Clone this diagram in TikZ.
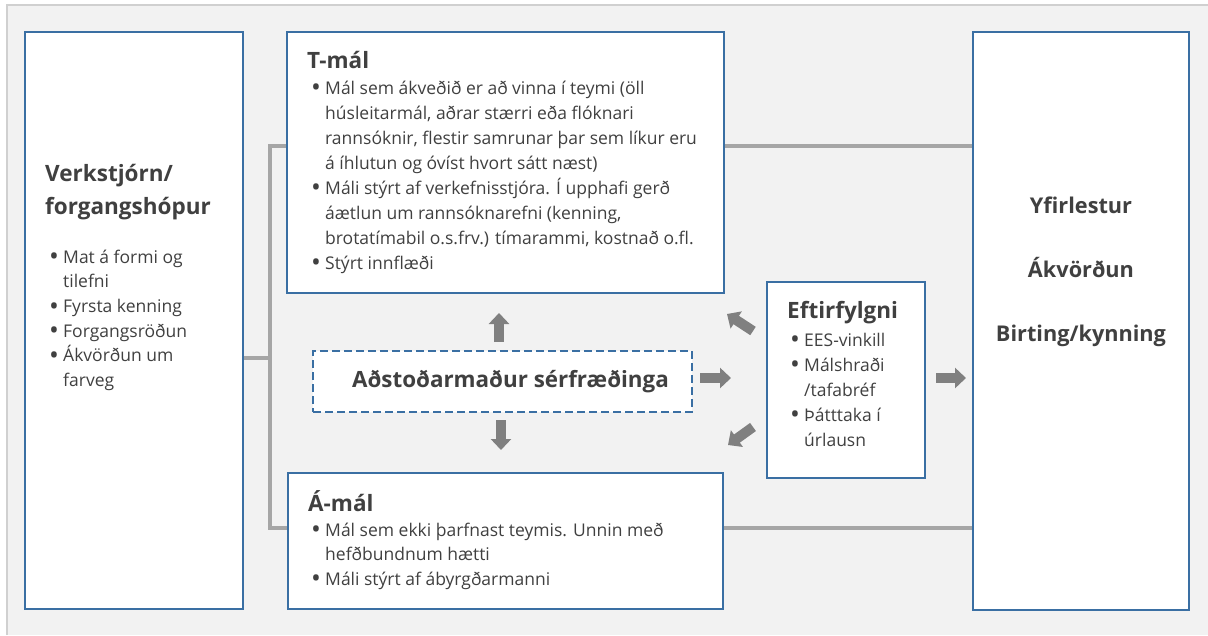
\documentclass[tikz,border=0pt]{standalone}
\usepackage{fontspec}
\usepackage{graphicx}
\setmainfont{Open Sans}
\usetikzlibrary{arrows.meta,calc,backgrounds}
\definecolor{bgfill}{HTML}{F2F2F2}
\definecolor{bgline}{HTML}{D0D0D0}
\definecolor{boxblue}{HTML}{3A6FA3}
\definecolor{conn}{HTML}{A6A6A6}
\definecolor{arr}{HTML}{808080}
\definecolor{txt}{HTML}{404040}
\newcommand{\bitem}{\makebox[14pt][l]{\raisebox{-0.14em}{\scalebox{1.5}{\textbullet}}}}
\newcommand{\bcont}{\hspace*{14pt}}
\begin{document}
\begin{tikzpicture}[x=1pt,y=-1pt,
  box/.style={draw=boxblue, line width=2.5pt, fill=white, rectangle, inner sep=0},
  dashbox/.style={box, dash pattern=on 8pt off 4pt},
  conline/.style={draw=conn, line width=4pt},
  blk/.style={draw=arr, line width=10pt, -{Triangle[width=20pt,length=11pt]}},
  body/.style={inner sep=0, anchor=north west, align=left, text=txt, font=\fontsize{17.5}{25}\selectfont},
  ttl/.style={inner sep=0, anchor=north west, align=left, text=txt, font=\bfseries\fontsize{22.5}{28}\selectfont},
]
\useasboundingbox (0,0) rectangle (1208,635);

% boxes
\node[box, minimum width=218pt, minimum height=577pt] (left) at (134,320.5) {};
\node[box, minimum width=437pt, minimum height=261pt] (tmal) at (505.5,162.5) {};
\node[box, minimum width=435pt, minimum height=136pt] (amal) at (505.5,541) {};
\node[dashbox, minimum width=379pt, minimum height=61pt, text=txt, font=\bfseries\fontsize{22.4}{28}\selectfont] (assist) at (502.5,381.5) {\hspace*{16pt}Aðstoðarmaður sérfræðinga};
\node[box, minimum width=158pt, minimum height=196pt] (eftir) at (846,380) {};
\node[box, minimum width=216pt, minimum height=578pt] (right) at (1081,321) {};

% texts
\node[ttl, font=\bfseries\fontsize{22.5}{33}\selectfont] (lefttitle) at (45,158) {\strut Verkstjórn/\\forgangshópur};
\node[body, font=\fontsize{17.5}{24.7}\selectfont] (leftbody) at (49,245.7) {\bitem\strut Mat á formi og\\\bcont tilefni\\\bitem Fyrsta kenning\\\bitem Forgangsröðun\\\bitem Ákvörðun um\\\bcont farveg};

\node[ttl] (ttitle) at (307,48.4) {\strut T-mál};
\node[body] (tbody) at (311,76.5) {\bitem\strut Mál sem ákveðið er að vinna í teymi (öll\\
\bcont húsleitarmál, aðrar stærri eða flóknari\\
\bcont rannsóknir, flestir samrunar þar sem líkur eru\\
\bcont á íhlutun og óvíst hvort sátt næst)\\
\bitem Máli stýrt af verkefnisstjóra. Í upphafi gerð\\
\bcont áætlun um rannsóknarefni (kenning,\\
\bcont brotatímabil o.s.frv.) tímarammi, kostnað o.fl.\\
\bitem Stýrt innflæði};

\node[ttl] (atitle) at (308,490.4) {\strut Á-mál};
\node[body, font=\fontsize{17.5}{24.5}\selectfont] (abody) at (311,519) {\bitem\strut Mál sem ekki þarfnast teymis. Unnin með\\
\bcont hefðbundnum hætti\\
\bitem Máli stýrt af ábyrgðarmanni};

\node[ttl] (etitle) at (787,298.4) {\strut Eftirfylgni};
\node[body] (ebody) at (790,328.5) {\bitem\strut EES-vinkill\\\bitem Málshraði\\\bcont /tafabréf\\\bitem Þátttaka í\\\bcont úrlausn};

\node[inner sep=0, anchor=north, align=center, text=txt, font=\bfseries\fontsize{21.7}{64}\selectfont] (rtext) at (1081,168.2) {\strut Yfirlestur\\Ákvörðun\\Birting/kynning};

% block arrows
\coordinate (u1) at (499,342); \coordinate (u2) at (499,313);
\coordinate (d1) at (501,420); \coordinate (d2) at (501,450);
\coordinate (r1) at (700,378); \coordinate (r2) at (731,378);
\coordinate (ul1) at (753,331); \coordinate (ul2) at (727,314);
\coordinate (dl1) at (753,427); \coordinate (dl2) at (728,445);
\coordinate (e1) at (936,378); \coordinate (e2) at (966,378);
\draw[blk] (u1) -- (u2);
\draw[blk] (d1) -- (d2);
\draw[blk] (r1) -- (r2);
\draw[blk] (ul1) -- (ul2);
\draw[blk] (dl1) -- (dl2);
\draw[blk] (e1) -- (e2);

% background and connectors
\coordinate (jL) at (270,358);
\coordinate (jT) at (270,146);
\coordinate (jA) at (270,528);
\begin{scope}[on background layer]
\fill[bgfill] (7,5) rectangle (1208,635);
\draw[bgline, line width=1.5pt] (7,635) -- (7,5) -- (1208,5);
\draw[conline] (left.east |- jL) -- (jL);
\draw[conline] (tmal.west |- jT) -- (jT) -- (jA) -- (amal.west |- jA);
\draw[conline] (tmal.east |- jT) -- (right.west |- jT);
\draw[conline] (amal.east |- jA) -- (right.west |- jA);
\end{scope}
\end{tikzpicture}
\end{document}
